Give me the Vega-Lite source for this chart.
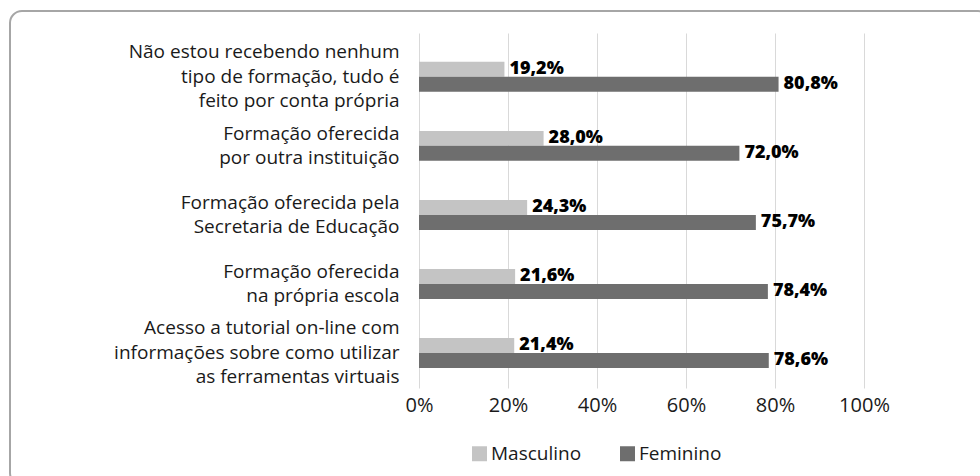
{
  "$schema": "https://vega.github.io/schema/vega-lite/v6.json",
  "width": 980,
  "height": 474,
  "autosize": {"type": "none"},
  "padding": {"left": 10, "top": 11, "right": 0, "bottom": 0},
  "background": "white",
  "config": {
    "view": {"stroke": "#a6a6a6", "strokeWidth": 2, "cornerRadius": 12, "fill": "white"},
    "font": "Open Sans",
    "locale": {"number": {"decimal": ",", "thousands": ".", "grouping": [3], "currency": ["", " €"], "percent": "%"}}
  },
  "data": {
    "values": [
      {"cat": "Não estou recebendo nenhum|tipo de  formação, tudo é|feito por conta própria", "sexo": "Masculino", "v": 0.192},
      {"cat": "Não estou recebendo nenhum|tipo de  formação, tudo é|feito por conta própria", "sexo": "Feminino", "v": 0.808},
      {"cat": "Formação oferecida|por outra instituição", "sexo": "Masculino", "v": 0.28},
      {"cat": "Formação oferecida|por outra instituição", "sexo": "Feminino", "v": 0.72},
      {"cat": "Formação oferecida pela|Secretaria de Educação", "sexo": "Masculino", "v": 0.243},
      {"cat": "Formação oferecida pela|Secretaria de Educação", "sexo": "Feminino", "v": 0.757},
      {"cat": "Formação oferecida|na própria escola", "sexo": "Masculino", "v": 0.216},
      {"cat": "Formação oferecida|na própria escola", "sexo": "Feminino", "v": 0.784},
      {"cat": "Acesso a tutorial on-line com|informações  sobre como utilizar|as ferramentas virtuais", "sexo": "Masculino", "v": 0.214},
      {"cat": "Acesso a tutorial on-line com|informações  sobre como utilizar|as ferramentas virtuais", "sexo": "Feminino", "v": 0.786}
    ]
  },
  "encoding": {
    "y": {
      "field": "cat",
      "type": "nominal",
      "sort": null,
      "scale": {"range": [22, 377], "paddingInner": 0.566, "paddingOuter": 0.354, "align": 0.59},
      "axis": {
        "title": null,
        "offset": -409,
        "domain": false,
        "ticks": false,
        "tickSize": 0,
        "grid": false,
        "labelPadding": 20,
        "labelFontSize": 19,
        "labelLineHeight": 24.5,
        "labelLimit": 500,
        "labelBaseline": "middle",
        "labelColor": "#1a1a1a",
        "labelOffset": {"expr": "-(length(split(datum.label, '|')) - 1) * 12.25"},
        "labelExpr": "split(datum.label, '|')"
      }
    },
    "yOffset": {
      "field": "sexo",
      "type": "nominal",
      "sort": ["Masculino", "Feminino"],
      "scale": {"paddingInner": 0, "paddingOuter": 0}
    }
  },
  "resolve": {"axis": {"x": "independent"}},
  "layer": [
    {
      "mark": {"type": "bar"},
      "encoding": {
        "x": {
          "field": "v",
          "type": "quantitative",
          "scale": {"domain": [0, 1], "range": [409, 854]},
          "axis": {
            "orient": "top",
            "title": null,
            "values": [0, 0.2, 0.4, 0.6, 0.8, 1],
            "grid": true,
            "gridColor": "#d9d9d9",
            "gridWidth": 1,
            "domain": false,
            "ticks": false,
            "labels": false
          }
        },
        "color": {
          "field": "sexo",
          "type": "nominal",
          "scale": {"domain": ["Masculino", "Feminino"], "range": ["#c4c4c4", "#6e6e6e"]},
          "legend": {
            "title": null,
            "orient": "none",
            "legendX": 460,
            "legendY": 433,
            "direction": "horizontal",
            "symbolType": "square",
            "symbolSize": 225,
            "symbolStrokeWidth": 0,
            "labelFontSize": 19,
            "labelColor": "#1a1a1a",
            "labelOffset": 2,
            "columnPadding": 36,
            "padding": 0
          }
        }
      }
    },
    {
      "mark": {"type": "text", "align": "left", "baseline": "middle", "dx": 5, "fontWeight": 800, "fontSize": 18, "color": "#000000"},
      "encoding": {
        "x": {
          "field": "v",
          "type": "quantitative",
          "scale": {"domain": [0, 1], "range": [409, 854]},
          "axis": {
            "orient": "bottom",
            "title": null,
            "format": ".0%",
            "values": [0, 0.2, 0.4, 0.6, 0.8, 1],
            "grid": false,
            "domain": false,
            "ticks": false,
            "tickSize": 0,
            "offset": -97,
            "labelPadding": 7,
            "labelFlush": false,
            "labelFontSize": 20,
            "labelColor": "#1a1a1a"
          }
        },
        "text": {"field": "v", "type": "quantitative", "format": ".1%"}
      }
    }
  ]
}
